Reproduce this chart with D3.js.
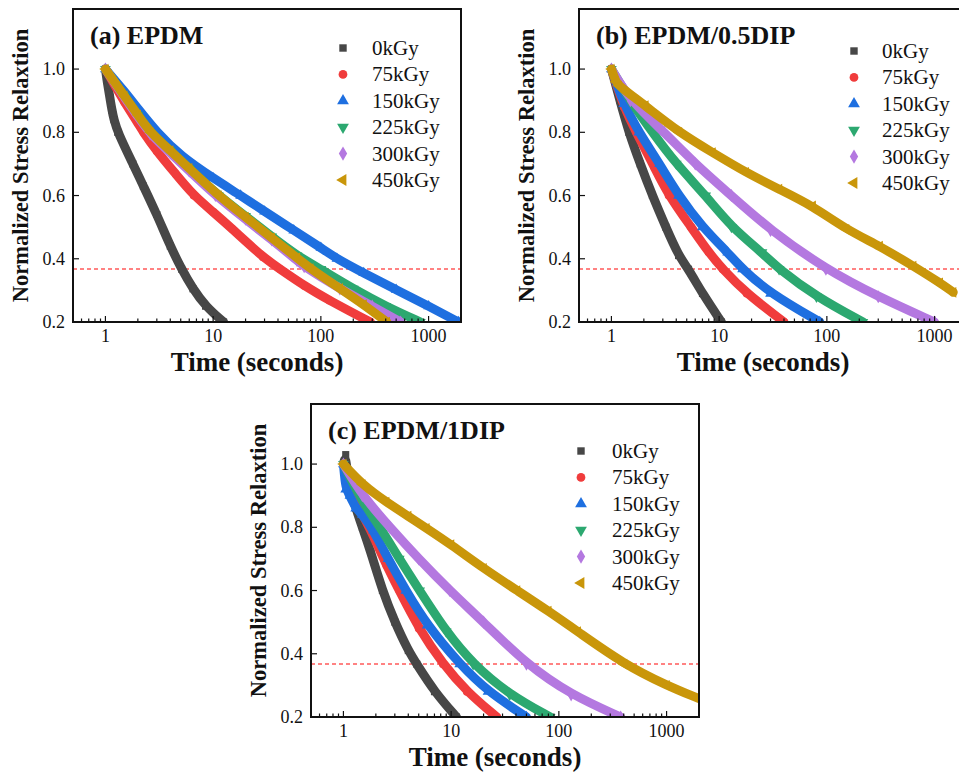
<!DOCTYPE html>
<html>
<head>
<meta charset="utf-8">
<script src="https://cdn.jsdelivr.net/npm/d3@7"></script>
<style>
  body { margin: 0; background: #fff; }
  text { font-family: "Liberation Serif", "Times New Roman", serif; fill: #111; }
</style>
</head>
<body>
<svg id="chart" width="959" height="773"></svg>
<script>
// dose labels, colours and marker shapes (same for every panel)
const doses = ["0kGy", "75kGy", "150kGy", "225kGy", "300kGy", "450kGy"];
const colors = ["#474747", "#f03c3c", "#1e6fe0", "#2ca870", "#b478e0", "#c9960a"];
const xTickLabels = [1, 10, 100, 1000];
const yTickValues = [0.2, 0.4, 0.6, 0.8, 1.0];
const thresholdValue = 0.368; // 1/e line

// (a) EPDM  -- [time (s), normalized stress]
const epdm_0   = [[1,1.0],[1.05,0.95],[1.1,0.91],[1.15,0.87],[1.2,0.84],[1.3,0.8],[1.8,0.7],[2.25,0.63],[3,0.54],[4,0.44],[5.1,0.367],[6.5,0.305],[8.5,0.25],[12.5,0.2]];
const epdm_75  = [[1,1.0],[1.5,0.895],[2,0.83],[2.25,0.8],[3,0.74],[4.5,0.668],[6.6,0.6],[10,0.548],[15,0.495],[29,0.405],[42,0.367],[70,0.315],[120,0.268],[288,0.2]];
const epdm_150 = [[1,1.0],[1.5,0.93],[2,0.875],[3,0.8],[5,0.725],[10,0.655],[18,0.6],[30,0.55],[56,0.49],[100,0.435],[141,0.4],[250,0.355],[500,0.302],[1000,0.25],[1900,0.2]];
const epdm_225 = [[1,1.0],[1.5,0.915],[2,0.855],[2.6,0.8],[4,0.742],[6,0.686],[11.2,0.6],[20,0.535],[35,0.47],[60,0.41],[100,0.367],[200,0.305],[400,0.25],[840,0.2]];
const epdm_300 = [[1,1.0],[1.5,0.91],[2,0.85],[2.6,0.795],[4,0.735],[6,0.678],[10.5,0.6],[20,0.525],[35,0.46],[60,0.395],[70,0.375],[150,0.305],[300,0.25],[550,0.2]];
const epdm_450 = [[1,1.0],[1.5,0.915],[2,0.855],[2.6,0.8],[4,0.742],[6,0.686],[11.2,0.6],[20,0.532],[35,0.466],[60,0.403],[80,0.369],[150,0.306],[250,0.255],[410,0.2]];

// (b) EPDM/0.5DIP
const dip05_0   = [[1,1.0],[1.2,0.9],[1.45,0.8],[1.85,0.7],[2.4,0.6],[3.2,0.5],[4.2,0.41],[5.2,0.367],[7,0.29],[10.5,0.2]];
const dip05_75  = [[1,1.0],[1.3,0.88],[1.7,0.8],[2.5,0.69],[3.4,0.6],[5.5,0.5],[8,0.42],[10.8,0.367],[18,0.29],[40,0.2]];
const dip05_150 = [[1,1.0],[1.3,0.89],[1.8,0.8],[2.8,0.7],[4.2,0.6],[7,0.5],[12,0.42],[16.5,0.367],[30,0.29],[86,0.2]];
const dip05_225 = [[1,1.0],[1.5,0.9],[2.4,0.8],[4,0.7],[7.5,0.6],[13,0.5],[25,0.42],[36,0.367],[80,0.28],[216,0.2]];
const dip05_300 = [[1,1.0],[1.5,0.9],[3.1,0.8],[6,0.7],[13,0.6],[30,0.49],[98,0.367],[300,0.28],[1000,0.2]];
const dip05_450 = [[1,1.0],[1.1,0.96],[1.17,0.947],[2.07,0.884],[4.24,0.8],[8.7,0.736],[17.7,0.673],[36,0.62],[74,0.567],[151,0.493],[310,0.44],[634,0.377],[1120,0.324],[1490,0.294]];

// (c) EPDM/1DIP
const dip1_0   = [[1,1.0],[1.05,1.03],[1.1,0.95],[1.3,0.86],[1.5,0.8],[1.8,0.72],[2.3,0.6],[3,0.5],[4,0.41],[4.8,0.367],[7,0.28],[11.2,0.2]];
const dip1_75  = [[1,1.0],[1.3,0.88],[1.75,0.8],[2.5,0.68],[3.3,0.6],[5,0.48],[8.4,0.367],[14,0.28],[26.5,0.2]];
const dip1_150 = [[1,1.0],[1.05,0.92],[1.15,0.9],[1.3,0.86],[1.5,0.84],[1.9,0.79],[2.6,0.7],[3.8,0.6],[6,0.49],[12,0.367],[22,0.28],[50,0.2]];
const dip1_225 = [[1,1.0],[1.5,0.88],[2.2,0.8],[3.3,0.7],[5.1,0.6],[9,0.47],[16,0.367],[35,0.27],[83,0.2]];
const dip1_300 = [[1,1.0],[1.5,0.9],[2.7,0.8],[5,0.7],[9.7,0.6],[20,0.5],[50,0.367],[130,0.27],[375,0.2]];
const dip1_450 = [[1,1.0],[1.5,0.935],[2.5,0.88],[4,0.835],[5.9,0.797],[10,0.745],[20,0.67],[41,0.6],[80,0.535],[150,0.47],[403,0.367],[1000,0.3],[2000,0.258]];

const panels = [
  { id: "a", title: "(a) EPDM", left: 73, top: 9, legend: { mx: 270, tx: 299, y0: 39 },
    series: [epdm_0, epdm_75, epdm_150, epdm_225, epdm_300, epdm_450] },
  { id: "b", title: "(b) EPDM/0.5DIP", left: 579, top: 9, legend: { mx: 275, tx: 303, y0: 42 },
    series: [dip05_0, dip05_75, dip05_150, dip05_225, dip05_300, dip05_450] },
  { id: "c", title: "(c) EPDM/1DIP", left: 311, top: 404, legend: { mx: 270, tx: 301, y0: 47 },
    series: [dip1_0, dip1_75, dip1_150, dip1_225, dip1_300, dip1_450] }
];

const width = 388, height = 313;

// marker shapes: square, circle, up triangle, down triangle, diamond, left triangle
const shapes = [
  { type: d3.symbolSquare, rot: 0, size: 55 },
  { type: d3.symbolCircle, rot: 0, size: 60 },
  { type: d3.symbolTriangle, rot: 0, size: 60 },
  { type: d3.symbolTriangle, rot: 180, size: 60 },
  { type: d3.symbolDiamond, rot: 0, size: 60 },
  { type: d3.symbolTriangle, rot: -90, size: 60 }
];

const svg = d3.select("#chart");

function drawPanel(p) {
  const x = d3.scaleLog().domain([0.5, 2000]).range([0, width]);
  const y = d3.scaleLinear().domain([0.2, 1.19]).range([height, 0]);

  const g = svg.append("g").attr("transform", `translate(${p.left},${p.top})`);

  g.append("clipPath").attr("id", "clip-" + p.id)
    .append("rect").attr("width", width).attr("height", height);

  // 1/e reference line
  g.append("line")
    .attr("x1", 0).attr("x2", width)
    .attr("y1", y(thresholdValue)).attr("y2", y(thresholdValue))
    .attr("stroke", "#ff5a5a").attr("stroke-width", 1.5)
    .attr("stroke-dasharray", "4,3");

  const plot = g.append("g").attr("clip-path", `url(#clip-${p.id})`);
  const line = d3.line()
    .x(d => x(d[0]))
    .y(d => y(d[1]))
    .curve(d3.curveBasis);

  p.series.forEach((s, i) => {
    // dense markers look like a thick band
    plot.append("path")
      .datum(s)
      .attr("d", line)
      .attr("fill", "none")
      .attr("stroke", colors[i])
      .attr("stroke-width", 9)
      .attr("stroke-linecap", "round")
      .attr("stroke-linejoin", "round");
    plot.selectAll(".m" + i)
      .data(s)
      .enter().append("path")
      .attr("class", "m" + i)
      .attr("transform", d => `translate(${x(d[0])},${y(d[1])}) rotate(${shapes[i].rot})`)
      .attr("d", d3.symbol().type(shapes[i].type).size(50))
      .attr("fill", colors[i]);
  });

  // x ticks (inside), major at decades
  const xt = x.ticks().filter(t => t > 0.5 && t <= 2000);
  g.selectAll(".xtick")
    .data(xt)
    .enter().append("line")
    .attr("x1", d => x(d)).attr("x2", d => x(d))
    .attr("y1", height)
    .attr("y2", d => xTickLabels.includes(d) ? height - 6 : height - 3.5)
    .attr("stroke", "#111").attr("stroke-width", 1.2);

  g.selectAll(".xlab")
    .data(xTickLabels)
    .enter().append("text")
    .attr("x", d => x(d))
    .attr("y", height + 20)
    .attr("text-anchor", "middle")
    .style("font-size", "18px")
    .text(d => d);

  // y ticks (inside)
  g.selectAll(".ytick")
    .data(yTickValues)
    .enter().append("line")
    .attr("x1", 0).attr("x2", 6)
    .attr("y1", d => y(d)).attr("y2", d => y(d))
    .attr("stroke", "#111").attr("stroke-width", 1.2);

  g.selectAll(".ylab")
    .data(yTickValues)
    .enter().append("text")
    .attr("x", -8)
    .attr("y", d => y(d) + 6)
    .attr("text-anchor", "end")
    .style("font-size", "18px")
    .text(d => d.toFixed(1));

  // frame
  g.append("rect")
    .attr("width", width).attr("height", height)
    .attr("fill", "none").attr("stroke", "#111").attr("stroke-width", 2);

  // panel title
  g.append("text")
    .attr("x", 17).attr("y", 35)
    .style("font-size", "26px").style("font-weight", "bold")
    .text(p.title);

  // legend
  doses.forEach((name, i) => {
    const ly = p.legend.y0 + i * 26.4;
    g.append("path")
      .attr("transform", `translate(${p.legend.mx},${ly}) rotate(${shapes[i].rot})`)
      .attr("d", d3.symbol().type(shapes[i].type).size(shapes[i].size))
      .attr("fill", colors[i]);
    g.append("text")
      .attr("x", p.legend.tx).attr("y", ly + 7)
      .style("font-size", "21px")
      .text(name);
  });

  // axis titles
  g.append("text")
    .attr("x", 184).attr("y", height + 49)
    .attr("text-anchor", "middle")
    .style("font-size", "27px").style("font-weight", "bold")
    .text("Time (seconds)");

  g.append("text")
    .attr("transform", "rotate(-90)")
    .attr("x", -height / 2).attr("y", -45)
    .attr("text-anchor", "middle")
    .style("font-size", "22.5px").style("font-weight", "bold")
    .text("Normalized Stress Relaxtion");
}

panels.forEach(drawPanel);
</script>
</body>
</html>
